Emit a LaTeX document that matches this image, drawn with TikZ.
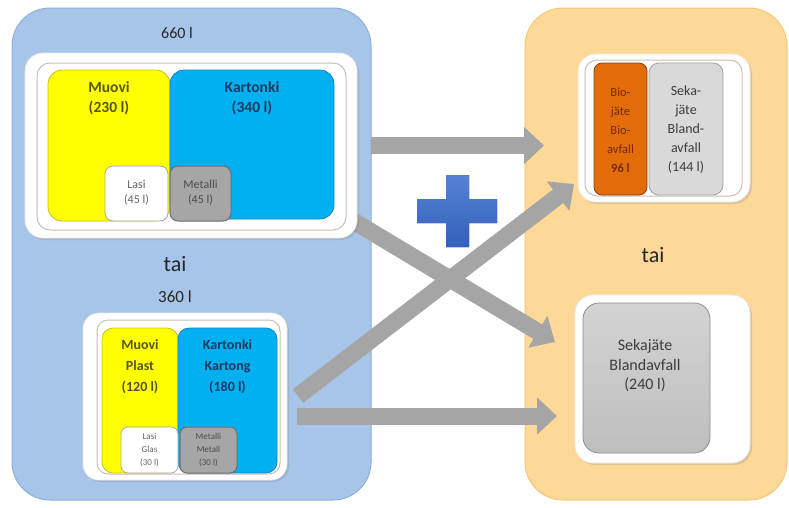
\documentclass[tikz,border=0pt]{standalone}
\usepackage{fontspec}
\setmainfont{Carlito}
\usetikzlibrary{arrows.meta,shadows}
\definecolor{panelblue}{RGB}{167,197,233}
\definecolor{panelblueb}{RGB}{140,175,220}
\definecolor{panelorange}{RGB}{254,216,150}
\definecolor{panelorangeb}{RGB}{245,200,120}
\definecolor{arrowgray}{RGB}{165,165,165}
\definecolor{binyellow}{RGB}{255,255,0}
\definecolor{binyellowb}{RGB}{200,190,40}
\definecolor{binblue}{RGB}{0,176,240}
\definecolor{binblueb}{RGB}{30,130,190}
\definecolor{metalgray}{RGB}{166,166,166}
\definecolor{metalgrayb}{RGB}{110,110,110}
\definecolor{bioorange}{RGB}{227,108,10}
\definecolor{bioorangeb}{RGB}{140,60,10}
\definecolor{sekagray}{RGB}{217,217,217}
\definecolor{sekagrayb}{RGB}{160,160,160}
\definecolor{biggray}{RGB}{200,200,200}
\definecolor{innerline}{RGB}{200,192,180}
\definecolor{plusblue}{RGB}{55,108,205}
\definecolor{olivetext}{RGB}{85,85,25}
\definecolor{navytext}{RGB}{30,58,95}
\definecolor{biotext}{RGB}{120,40,5}
\definecolor{darktext}{RGB}{60,60,60}
\begin{document}
\begin{tikzpicture}[x=1pt,y=-1pt,
  rbox/.style={rectangle, rounded corners=#1, inner sep=0pt, outer sep=0pt},
  panel/.style={rbox=38pt, line width=1pt},
  holder/.style={rbox=18pt, fill=white, draw=white!92!black, line width=0.8pt,
     drop shadow={opacity=0.25, shadow xshift=2pt, shadow yshift=-2pt}},
  rim/.style={rbox=13pt, draw=innerline, line width=1pt},
  bigarrow/.style={draw=arrowgray, line width=17pt,
     -{Triangle[width=36pt,length=20pt]}},
  lbl/.style={inner sep=0pt, text=black!85, align=center}
]
\useasboundingbox (0,0) rectangle (789,507);

% panels
\node[panel, fill=panelblue, draw=panelblueb, minimum width=359pt, minimum height=492pt] (leftpanel) at (191.5,254) {};
\node[panel, fill=panelorange, draw=panelorangeb, minimum width=262pt, minimum height=492pt] (rightpanel) at (656,254) {};

% arrows
\coordinate (a1s) at (371,145.5);
\coordinate (a1e) at (544,145.5);
\coordinate (a2s) at (297,416);
\coordinate (a2e) at (557,416);
\coordinate (a3s) at (345,216);
\coordinate (a3e) at (555,342);
\coordinate (a4s) at (298,396);
\coordinate (a4e) at (574,184);
\draw[bigarrow] (a1s) -- (a1e);
\draw[bigarrow] (a2s) -- (a2e);
\draw[bigarrow] (a4s) -- (a4e);
\draw[bigarrow] (a3s) -- (a3e);

% plus sign
\fill[top color=plusblue!85!white, bottom color=plusblue!90!black]
  (446,175) -- (469,175) -- (469,199) -- (497,199) -- (497,223) -- (469,223)
  -- (469,247) -- (446,247) -- (446,223) -- (417,223) -- (417,199) -- (446,199) -- cycle;

% labels
\node[lbl, font=\fontsize{16}{18}\selectfont] (t660) at (177,33) {660 l};
\node[lbl, font=\fontsize{22}{24}\selectfont] (taileft) at (175,264) {tai};
\node[lbl, font=\fontsize{17}{19}\selectfont] (t360) at (175,297) {360 l};
\node[lbl, font=\fontsize{22}{24}\selectfont] (tairight) at (653,255) {tai};

% top-left holder (660 l)
\node[holder, minimum width=332pt, minimum height=185pt] (hold660) at (191,145.5) {};
\node[rim, minimum width=309pt, minimum height=167pt] (rim660) at (191.5,146.5) {};
\node[rbox=14pt, fill=binyellow, draw=binyellowb, line width=0.8pt, minimum width=122pt, minimum height=151pt] (muovi1) at (109,145.5) {};
\node[rbox=14pt, fill=binblue, draw=binblueb, line width=0.8pt, minimum width=164pt, minimum height=149pt] (kart1) at (252,144.5) {};
\node[rbox=8pt, fill=white, draw=black!35, line width=0.8pt, minimum width=63pt, minimum height=55pt] (lasi1) at (136.5,193.5) {};
\node[rbox=8pt, fill=metalgray, draw=metalgrayb, line width=1pt, minimum width=61pt, minimum height=55pt] (metal1) at (200.5,193.5) {};
\node[lbl, text=olivetext, font=\bfseries\fontsize{15.5}{20}\selectfont] (muovi1t) at (109,98) {Muovi\\(230 l)};
\node[lbl, text=navytext, font=\bfseries\fontsize{15.5}{20}\selectfont] (kart1t) at (252,98) {Kartonki\\(340 l)};
\node[lbl, text=black!60, font=\fontsize{12}{15}\selectfont] (lasi1t) at (136.5,193) {Lasi\\(45 l)};
\node[lbl, text=black!70, font=\fontsize{12}{15}\selectfont] (metal1t) at (200.5,193) {Metalli\\(45 l)};

% bottom-left holder (360 l)
\node[holder, rbox=16pt, minimum width=204pt, minimum height=167pt] (hold360) at (185,396.5) {};
\node[rim, rbox=11pt, minimum width=183pt, minimum height=154pt] (rim360) at (188.5,397) {};
\node[rbox=11pt, fill=binyellow, draw=binyellowb, line width=0.8pt, minimum width=76pt, minimum height=145pt] (muovi2) at (140,400.5) {};
\node[rbox=11pt, fill=binblue, draw=binblueb, line width=0.8pt, minimum width=99pt, minimum height=145pt] (kart2) at (227.5,400.5) {};
\node[rbox=7pt, fill=white, draw=black!35, line width=0.8pt, minimum width=57pt, minimum height=46pt] (lasi2) at (149.5,450) {};
\node[rbox=7pt, fill=metalgray, draw=metalgrayb, line width=1pt, minimum width=57pt, minimum height=46pt] (metal2) at (208.5,450) {};
\node[lbl, text=olivetext, font=\bfseries\fontsize{14}{21}\selectfont] (muovi2t) at (140,367) {Muovi\\Plast\\(120 l)};
\node[lbl, text=navytext, font=\bfseries\fontsize{14}{21}\selectfont] (kart2t) at (227.5,367) {Kartonki\\Kartong\\(180 l)};
\node[lbl, text=black!60, font=\fontsize{9}{13}\selectfont] (lasi2t) at (149.5,450) {Lasi\\Glas\\(30 l)};
\node[lbl, text=black!70, font=\fontsize{9}{13}\selectfont] (metal2t) at (208.5,450) {Metalli\\Metall\\(30 l)};

% top-right holder
\node[holder, minimum width=172pt, minimum height=148pt] (holdbio) at (664,128) {};
\node[rim, rbox=12pt, minimum width=157pt, minimum height=136pt] (rimbio) at (663.5,128) {};
\node[rbox=8pt, fill=bioorange, draw=bioorangeb, line width=0.8pt, minimum width=53pt, minimum height=132pt] (bio) at (620.5,129) {};
\node[rbox=10pt, fill=sekagray, draw=sekagrayb, line width=0.8pt, minimum width=74pt, minimum height=132pt] (seka) at (686,129) {};
\node[lbl, text=biotext, font=\fontsize{12.5}{19}\selectfont] (biot) at (620.5,130) {Bio-\\jäte\\Bio-\\avfall\\\textbf{96 l}};
\node[lbl, text=darktext, font=\fontsize{14}{19}\selectfont] (sekat) at (686,130) {Seka-\\jäte\\Bland-\\avfall\\(144 l)};

% bottom-right holder
\node[holder, minimum width=175pt, minimum height=168pt] (holdbig) at (662.5,379) {};
\node[rbox=16pt, top color=biggray!80!white, bottom color=biggray!95!black, draw=black!45, line width=0.8pt, minimum width=127pt, minimum height=150pt] (big) at (646.5,378) {};
\node[lbl, text=darktext, font=\fontsize{16}{19.5}\selectfont] (bigt) at (645,366) {Sekajäte\\Blandavfall\\(240 l)};
\end{tikzpicture}
\end{document}
